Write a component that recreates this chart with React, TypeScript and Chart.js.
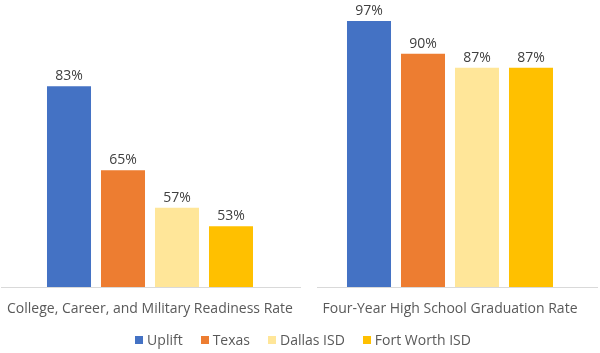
import React, { useEffect, useRef } from 'react';
import { Chart, registerables } from 'chart.js';

Chart.register(...registerables);

const categories = [
  'College, Career, and Military Readiness Rate',
  'Four-Year High School Graduation Rate',
];
const seriesNames = ['Uplift', 'Texas', 'Dallas ISD', 'Fort Worth ISD'];
const uplift = [83, 97];
const texas = [65, 90];
const dallasIsd = [57, 87];
const fortWorthIsd = [53, 87];
const seriesValues = [uplift, texas, dallasIsd, fortWorthIsd];
const seriesColors = ['#4472C4', '#ED7D31', '#FFE699', '#FFC000'];
const yMin = 40;
const yMax = 100;

const FONT = "'Open Sans', 'Noto Sans', sans-serif";

const splitBaseline = {
  id: 'splitBaseline',
  beforeDatasetsDraw(chart: any) {
    const { ctx, chartArea } = chart;
    const y = Math.round(chartArea.bottom) + 0.5;
    const mid = (chartArea.left + chartArea.right) / 2;
    ctx.save();
    ctx.strokeStyle = '#D9D9D9';
    ctx.lineWidth = 1;
    ctx.beginPath();
    ctx.moveTo(chartArea.left + 1, y);
    ctx.lineTo(mid + 1, y);
    ctx.moveTo(mid + 17, y);
    ctx.lineTo(chartArea.right - 2, y);
    ctx.stroke();
    ctx.restore();
  },
};

const valueLabels = {
  id: 'valueLabels',
  afterDatasetsDraw(chart: any) {
    const { ctx } = chart;
    ctx.save();
    ctx.font = `14px ${FONT}`;
    ctx.fillStyle = '#404040';
    ctx.textAlign = 'center';
    ctx.textBaseline = 'alphabetic';
    chart.data.datasets.forEach((ds: any, i: number) => {
      const meta = chart.getDatasetMeta(i);
      meta.data.forEach((bar: any, j: number) => {
        ctx.fillText(`${ds.data[j]}%`, bar.x, bar.y - 6);
      });
    });
    ctx.restore();
  },
};

const bottomLegend = {
  id: 'bottomLegend',
  afterDraw(chart: any) {
    const { ctx, width } = chart;
    ctx.save();
    ctx.font = `14px ${FONT}`;
    const box = 8;
    const gapBoxText = 4;
    const gapItems = 18;
    const items = chart.data.datasets.map((ds: any) => ({
      label: ds.label,
      color: ds.backgroundColor,
      w: ctx.measureText(ds.label).width,
    }));
    const total =
      items.reduce((s: number, it: any) => s + box + gapBoxText + it.w, 0) +
      gapItems * (items.length - 1);
    let x = width / 2 + 3 - total / 2;
    const cy = 340;
    ctx.textBaseline = 'middle';
    ctx.textAlign = 'left';
    items.forEach((it: any) => {
      ctx.fillStyle = it.color;
      ctx.fillRect(Math.round(x), cy - 4, box, box);
      ctx.fillStyle = '#595959';
      ctx.fillText(it.label, x + box + gapBoxText, cy + 1);
      x += box + gapBoxText + it.w + gapItems;
    });
    ctx.restore();
  },
};

export default function App() {
  const canvasRef = useRef<HTMLCanvasElement | null>(null);

  useEffect(() => {
    document.body.style.margin = '0';
    const canvas = canvasRef.current;
    if (!canvas) return;
    const chart = new Chart(canvas, {
      type: 'bar',
      data: {
        labels: categories,
        datasets: seriesNames.map((name, i) => ({
          label: name,
          data: seriesValues[i],
          backgroundColor: seriesColors[i],
          borderWidth: 0,
          categoryPercentage: 0.72,
          barPercentage: 0.815,
        })),
      },
      options: {
        animation: false,
        responsive: false,
        devicePixelRatio: 1,
        layout: { padding: { top: 7, left: 0, right: 0, bottom: 22 } },
        plugins: {
          legend: { display: false },
          tooltip: { enabled: false },
        },
        scales: {
          x: {
            grid: { display: false, drawTicks: false },
            border: { display: false },
            ticks: {
              padding: 0,
              color: '#595959',
              font: { family: FONT, size: 14, lineHeight: '44px' },
              maxRotation: 0,
              autoSkip: false,
            },
          },
          y: {
            display: false,
            min: yMin,
            max: yMax,
          },
        },
      },
      plugins: [splitBaseline, valueLabels, bottomLegend],
    });
    return () => chart.destroy();
  }, []);

  return (
    <div style={{ width: 600, height: 353 }}>
      <canvas ref={canvasRef} width={600} height={353} />
    </div>
  );
}
